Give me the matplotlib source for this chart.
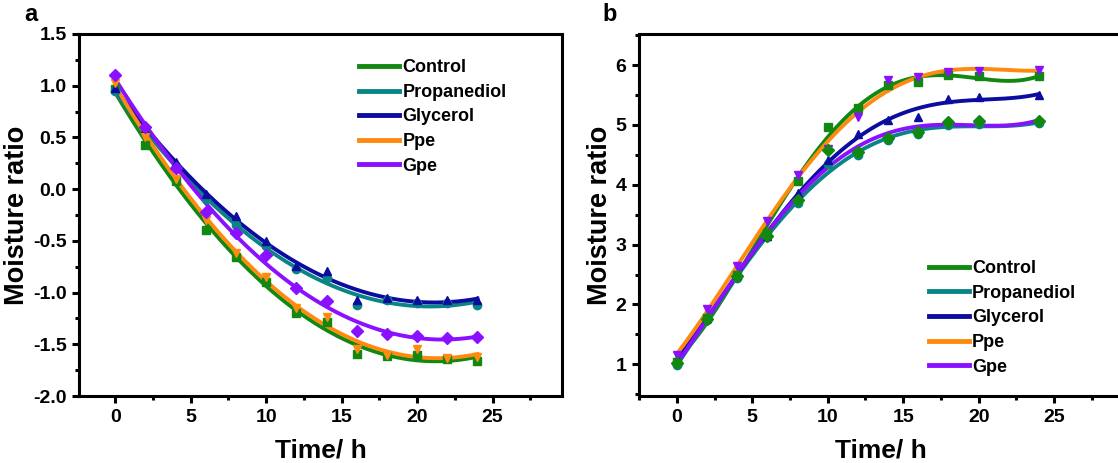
import matplotlib
matplotlib.use('Agg')
import matplotlib.pyplot as plt
import numpy as np
from matplotlib.ticker import MultipleLocator, FormatStrFormatter

plt.rcParams['font.family'] = ['Liberation Sans', 'DejaVu Sans']
plt.rcParams['font.weight'] = 'bold'

labels = ['Control', 'Propanediol', 'Glycerol', 'Ppe', 'Gpe']
line_colors = ['#118811', '#0a8585', '#0c0ca0', '#ff8a10', '#8a10ff']

# panel a: drying
time_a = [0, 2, 4, 6, 8, 10, 12, 14, 16, 18, 20, 22, 24]
control_a = [0.97, 0.43, 0.08, -0.40, -0.66, -0.90, -1.20, -1.28, -1.59, -1.61, -1.60, -1.64, -1.66]
propanediol_a = [0.95, 0.56, 0.22, -0.10, -0.35, -0.55, -0.77, -0.86, -1.12, -1.07, -1.10, -1.10, -1.12]
glycerol_a = [0.98, 0.58, 0.26, -0.05, -0.26, -0.50, -0.74, -0.79, -1.07, -1.05, -1.07, -1.07, -1.07]
ppe_a = [1.03, 0.50, 0.10, -0.30, -0.62, -0.85, -1.15, -1.24, -1.55, -1.60, -1.55, -1.63, -1.62]
gpe_a = [1.10, 0.60, 0.20, -0.22, -0.42, -0.64, -0.96, -1.08, -1.37, -1.40, -1.42, -1.44, -1.43]

# panel b: rehydration
time_b = [0, 2, 4, 6, 8, 10, 12, 14, 16, 18, 20, 24]
control_b = [1.04, 1.78, 2.50, 3.20, 4.07, 4.97, 5.28, 5.66, 5.71, 5.83, 5.82, 5.81]
propanediol_b = [0.99, 1.74, 2.45, 3.12, 3.70, 4.35, 4.50, 4.75, 4.84, 5.00, 5.02, 5.03]
glycerol_b = [1.08, 1.78, 2.50, 3.15, 3.86, 4.42, 4.84, 5.08, 5.13, 5.43, 5.47, 5.50]
ppe_b = [1.15, 1.92, 2.65, 3.40, 4.17, 4.60, 5.14, 5.75, 5.80, 5.88, 5.90, 5.92]
gpe_b = [1.02, 1.76, 2.48, 3.15, 3.75, 4.58, 4.55, 4.78, 4.88, 5.05, 5.06, 5.06]

markers = ['s', 'o', '^', 'v', 'D']
marker_colors_a = line_colors
marker_colors_b = ['#118811', '#0a8585', '#0c0ca0', '#8a10ff', '#118811']
fit_deg_b = [5, 4, 4, 4, 4]

fig = plt.figure(figsize=(11.18, 4.63), dpi=100)
ax1 = fig.add_axes([0.0707, 0.1447, 0.432, 0.782])
ax2 = fig.add_axes([0.5716, 0.1447, 0.432, 0.782])


def draw(ax, t, series, mcolors, degs):
    tt = np.linspace(0, 24, 200)
    for y, lab, lc, mc, m, d in zip(series, labels, line_colors, mcolors, markers, degs):
        ax.plot(t, y, ls='none', marker=m, ms=6, color=mc, zorder=3)
        coef = np.polyfit(t, y, d)
        ax.plot(tt, np.polyval(coef, tt), color=lc, lw=2.8, label=lab, zorder=2)


draw(ax1, time_a, [control_a, propanediol_a, glycerol_a, ppe_a, gpe_a], marker_colors_a, [2] * 5)
draw(ax2, time_b, [control_b, propanediol_b, glycerol_b, ppe_b, gpe_b], marker_colors_b, fit_deg_b)

ax1.set_xlim(-2.4, 29.6)
ax1.set_ylim(-2.0, 1.5)
ax1.yaxis.set_major_locator(MultipleLocator(0.5))
ax1.yaxis.set_minor_locator(MultipleLocator(0.25))
ax1.yaxis.set_major_formatter(FormatStrFormatter('%.1f'))

ax2.set_xlim(-2.5, 29.5)
ax2.set_ylim(0.47, 6.52)
ax2.yaxis.set_major_locator(MultipleLocator(1))
ax2.yaxis.set_minor_locator(MultipleLocator(0.5))

for ax, leg_pos in [(ax1, (0.565, 0.95)), (ax2, (0.585, 0.395))]:
    ax.xaxis.set_major_locator(MultipleLocator(5))
    ax.xaxis.set_minor_locator(MultipleLocator(2.5))
    for s in ax.spines.values():
        s.set_linewidth(2.2)
    ax.tick_params(which='major', direction='out', length=5, width=2.2, labelsize=14, pad=4)
    ax.tick_params(which='minor', direction='out', length=3, width=2.2)
    ax.set_xlabel('Time/ h', fontsize=19, fontweight='bold', labelpad=9)
    ax.set_ylabel('Moisture ratio', fontsize=19.5, fontweight='bold', labelpad=2)
    leg = ax.legend(loc='upper left', bbox_to_anchor=leg_pos, frameon=False,
                    fontsize=13, handlelength=2.2, handletextpad=0.2,
                    labelspacing=0.42, borderaxespad=0)
    for lh in leg.get_lines():
        lh.set_linewidth(3.5)

fig.text(0.022, 0.955, 'a', fontsize=17, fontweight='bold')
fig.text(0.539, 0.955, 'b', fontsize=17, fontweight='bold')

fig.savefig('out.png', dpi=100)
